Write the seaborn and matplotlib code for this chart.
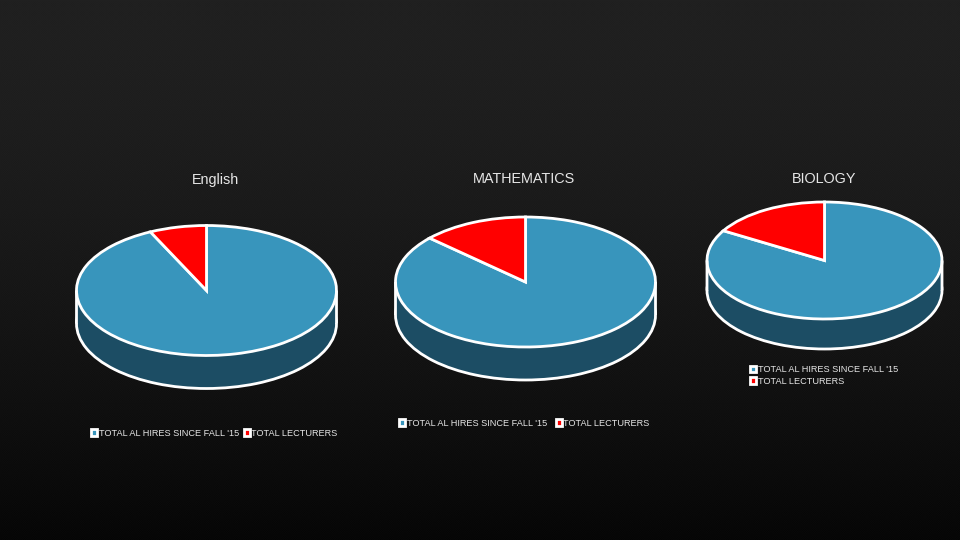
import numpy as np
import matplotlib
matplotlib.use("Agg")
import matplotlib.pyplot as plt
from matplotlib.patches import Rectangle
import seaborn as sns

# Data (percent of each pie)
subjects = ["English", "MATHEMATICS", "BIOLOGY"]
series_labels = ["TOTAL AL HIRES SINCE FALL '15", "TOTAL LECTURERS"]
al_hires = [92.9, 86.8, 83.5]
lecturers = [7.1, 13.2, 16.5]

W, H = 960, 540
sns.set_theme(style="dark")
plt.rcParams["font.family"] = ["Liberation Sans", "DejaVu Sans"]
palette = sns.color_palette(["#3895bc", "#ff0000"])
side_color = "#1c4d64"
line = "white"
text_color = "#e6e6e6"
lw = 2.0

fig = plt.figure(figsize=(W / 100, H / 100), dpi=100)

# dark backdrop fading to near black at the bottom, with a faint weave
bg = fig.add_axes([0, 0, 1, 1])
yy, xx = np.mgrid[0:1:540j, 0:1:960j]
shade = 0.125 - 0.1 * yy ** 1.6 + 0.006 * np.sin(yy * 1500) * np.sin(xx * 2700)
bg.imshow(shade, cmap="gray", vmin=0, vmax=1, aspect="auto", interpolation="nearest")
bg.axis("off")

# pixel layout of each pie: centre x, centre y, radius x, radius y, depth
layout = [(206.5, 290.5, 130, 65, 33), (525.5, 282, 130, 65, 33), (824.5, 260.5, 117.5, 58.5, 30)]
title_pos = [(215.5, 180), (524, 179), (824, 179)]
# legend: left x, centre y, columns, column gap
legend_pos = [(91, 433, 2, 0.5), (399, 423, 2, 0.95), (750, 375.5, 1, 0.5)]


def draw_pie(i):
    cx, cy, rx, ry, depth = layout[i]
    ax = fig.add_axes([(cx - rx) / W, 1 - (cy + ry + depth) / H, 2 * rx / W, (2 * ry + depth) / H])
    d = depth / ry
    edge = dict(edgecolor=line, linewidth=lw, clip_on=False)

    # side of the disc: a dark copy of the pie pushed down
    ax.pie([1], colors=[side_color], center=(0, -d), wedgeprops=edge)
    ax.add_patch(Rectangle((-1, -d), 2, d, facecolor=side_color, edgecolor="none", clip_on=False))
    for x in (-1, 1):
        ax.plot([x, x], [-d, 0], color=line, lw=lw, clip_on=False, snap=False, solid_capstyle="butt")

    wedges, _ = ax.pie([al_hires[i], lecturers[i]], colors=palette, startangle=90,
                       counterclock=False, wedgeprops=edge)
    ax.set_aspect("auto")
    ax.set_xlim(-1, 1)
    ax.set_ylim(-1 - d, 1)

    tx, ty = title_pos[i]
    fig.text(tx / W, 1 - ty / H, subjects[i], color=text_color, fontsize=10.4,
             ha="center", va="center")

    lx, ly, ncol, gap = legend_pos[i]
    fig.legend(wedges, series_labels, loc="center left", bbox_to_anchor=(lx / W, 1 - ly / H),
               ncol=ncol, frameon=False, fontsize=6.55, labelcolor=text_color,
               borderpad=0, borderaxespad=0, handlelength=0.7, handleheight=0.7,
               handletextpad=0.15, columnspacing=gap, labelspacing=0.3)


for i in range(len(subjects)):
    draw_pie(i)

fig.savefig("out.png", dpi=100)
